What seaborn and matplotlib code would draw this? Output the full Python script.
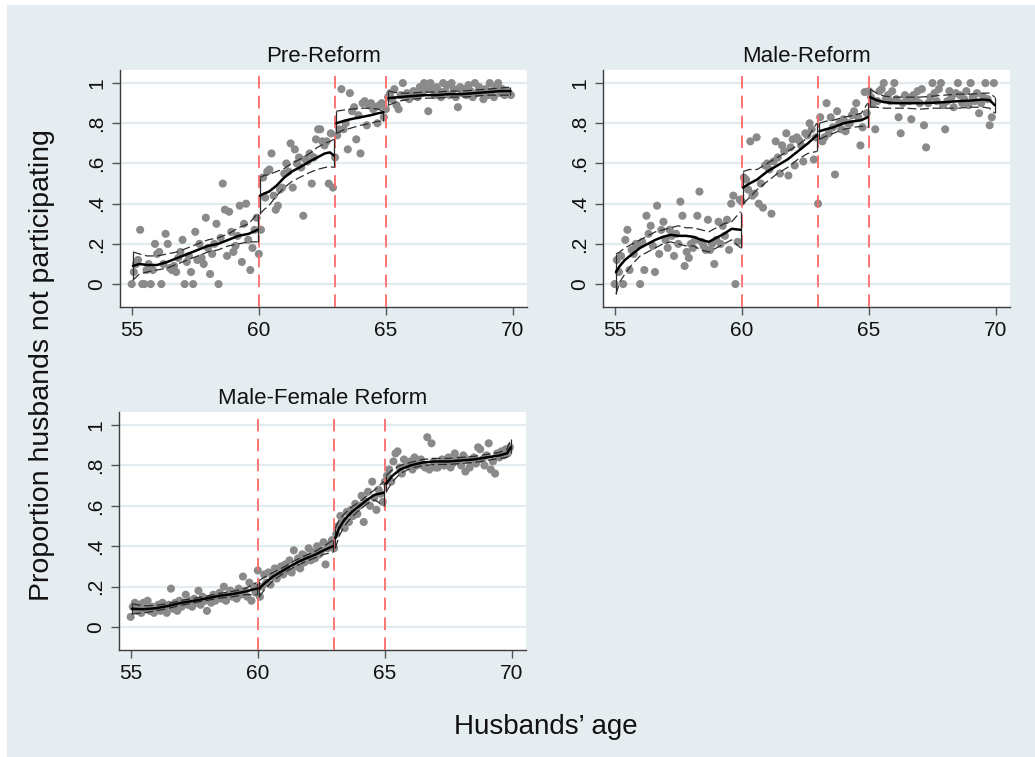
import numpy as np
import pandas as pd
import matplotlib
matplotlib.use("Agg")
import matplotlib.pyplot as plt
from matplotlib.patches import Rectangle
import seaborn as sns

# ---------------- data ----------------
ages = 55 + np.arange(180) / 12.0   # monthly age grid 55.0 ... 69.92

pre_y = [
    0.00, 0.06, 0.10, 0.12, 0.27, 0.00, 0.00, 0.07, 0.10, 0.00, 0.07, 0.20,
    0.15, 0.16, 0.00, 0.10, 0.25, 0.20, 0.08, 0.07, 0.09, 0.06, 0.13, 0.16,
    0.22, 0.00, 0.11, 0.14, 0.06, 0.00, 0.26, 0.12, 0.20, 0.13, 0.10, 0.33,
    0.18, 0.05, 0.15, 0.20, 0.30, 0.00, 0.23, 0.50, 0.37, 0.14, 0.36, 0.26,
    0.16, 0.19, 0.24, 0.39, 0.11, 0.30, 0.40, 0.22, 0.07, 0.18, 0.27, 0.33,
    0.15, 0.27, 0.53, 0.43, 0.56, 0.57, 0.65, 0.44, 0.37, 0.39, 0.47, 0.48,
    0.55, 0.60, 0.56, 0.70, 0.48, 0.67, 0.60, 0.63, 0.58, 0.34, 0.62, 0.61,
    0.65, 0.50, 0.63, 0.72, 0.77, 0.77, 0.71, 0.69, 0.71, 0.50, 0.75, 0.48,
    0.63, 0.74, 0.77, 0.97, 0.77, 0.80, 0.67, 0.95, 0.86, 0.88, 0.72, 0.84,
    0.65, 0.90, 0.91, 0.79, 0.89, 0.90, 0.87, 0.88, 0.80, 0.89, 0.90, 0.83,
    0.87, 0.93, 0.95, 0.92, 0.97, 0.89, 0.87, 0.94, 1.00, 0.93, 0.95, 0.92,
    0.94, 0.96, 0.95, 0.93, 0.98, 0.95, 1.00, 0.97, 0.86, 1.00, 0.97, 0.94,
    0.98, 0.96, 0.93, 1.00, 0.96, 0.99, 0.94, 1.00, 0.97, 0.93, 0.88, 0.98,
    0.95, 0.97, 0.94, 0.99, 0.96, 0.93, 1.00, 0.95, 0.98, 0.96, 0.92, 0.97,
    0.94, 1.00, 0.96, 0.93, 0.98, 1.00, 0.95, 0.97, 0.94, 0.96, 0.95, 0.94,
]

male_y = [
    0.00, 0.12, 0.06, 0.14, 0.00, 0.22, 0.27, 0.07, 0.17, 0.15, 0.20, 0.19,
    0.00, 0.21, 0.07, 0.34, 0.25, 0.29, 0.19, 0.06, 0.39, 0.15, 0.27, 0.31,
    0.22, 0.18, 0.27, 0.24, 0.14, 0.25, 0.20, 0.41, 0.34, 0.09, 0.16, 0.13,
    0.20, 0.18, 0.22, 0.34, 0.46, 0.21, 0.19, 0.17, 0.32, 0.17, 0.20, 0.10,
    0.22, 0.31, 0.20, 0.29, 0.24, 0.32, 0.17, 0.40, 0.44, 0.00, 0.21, 0.42,
    0.41, 0.53, 0.52, 0.47, 0.71, 0.44, 0.45, 0.73, 0.40, 0.50, 0.38, 0.59,
    0.60, 0.57, 0.35, 0.61, 0.71, 0.63, 0.55, 0.69, 0.66, 0.75, 0.54, 0.68,
    0.72, 0.59, 0.73, 0.715, 0.69, 0.61, 0.75, 0.74, 0.80, 0.77, 0.62, 0.73,
    0.40, 0.83, 0.71, 0.73, 0.90, 0.75, 0.83, 0.78, 0.545, 0.86, 0.80, 0.77,
    0.82, 0.76, 0.80, 0.80, 0.84, 0.86, 0.90, 0.83, 0.69, 0.78, 0.955, 0.85,
    0.96, 0.93, 0.90, 0.77, 0.91, 0.96, 0.97, 1.00, 0.92, 0.94, 0.91, 0.96,
    1.00, 0.92, 0.83, 0.75, 0.90, 0.94, 0.93, 0.91, 0.82, 0.94, 0.92, 0.96,
    0.90, 0.97, 0.79, 0.68, 0.90, 0.93, 1.00, 0.95, 0.91, 0.97, 1.00, 0.89,
    0.77, 0.91, 0.96, 0.93, 0.88, 0.95, 1.00, 0.94, 0.90, 0.92, 0.96, 0.89,
    1.00, 0.93, 0.91, 0.95, 0.85, 0.90, 0.93, 1.00, 0.92, 0.79, 0.83, 1.00,
]

mf_y = [
    0.05, 0.10, 0.12, 0.08, 0.11, 0.07, 0.12, 0.09, 0.13, 0.08, 0.10, 0.07,
    0.09, 0.11, 0.08, 0.12, 0.10, 0.07, 0.11, 0.19, 0.09, 0.12, 0.08, 0.13,
    0.10, 0.12, 0.16, 0.11, 0.13, 0.10, 0.14, 0.12, 0.18, 0.11, 0.15, 0.13,
    0.08, 0.14, 0.12, 0.16, 0.13, 0.15, 0.17, 0.14, 0.20, 0.13, 0.16, 0.18,
    0.15, 0.17, 0.14, 0.19, 0.16, 0.25, 0.18, 0.15, 0.22, 0.13, 0.20, 0.17,
    0.28, 0.15, 0.20, 0.26, 0.22, 0.27, 0.21, 0.25, 0.29, 0.24, 0.27, 0.30,
    0.26, 0.31, 0.28, 0.33, 0.27, 0.38, 0.30, 0.34, 0.29, 0.36, 0.32, 0.35,
    0.39, 0.33, 0.37, 0.34, 0.40, 0.36, 0.38, 0.42, 0.31, 0.39, 0.41, 0.43,
    0.39, 0.46, 0.50, 0.55, 0.53, 0.49, 0.57, 0.52, 0.58, 0.55, 0.61, 0.56,
    0.60, 0.65, 0.52, 0.62, 0.67, 0.60, 0.72, 0.64, 0.58, 0.68, 0.66, 0.62,
    0.72, 0.75, 0.78, 0.72, 0.82, 0.86, 0.87, 0.79, 0.76, 0.83, 0.80, 0.81,
    0.82, 0.78, 0.84, 0.80, 0.81, 0.83, 0.80, 0.79, 0.94, 0.78, 0.91, 0.82,
    0.79, 0.79, 0.81, 0.83, 0.80, 0.82, 0.84, 0.79, 0.81, 0.86, 0.83, 0.82,
    0.80, 0.85, 0.77, 0.83, 0.79, 0.82, 0.84, 0.81, 0.89, 0.88, 0.83, 0.80,
    0.85, 0.91, 0.78, 0.82, 0.76, 0.86, 0.84, 0.87, 0.85, 0.88, 0.86, 0.89,
]

# local fits: (x, fit, lower CI, upper CI) for each segment
pre_fit = [
    ([55.05, 55.3, 55.6, 56.0, 56.4, 56.8, 57.2, 57.6, 58.0, 58.4, 58.8, 59.2, 59.6, 59.95],
     [0.09, 0.10, 0.095, 0.095, 0.11, 0.13, 0.15, 0.17, 0.19, 0.20, 0.22, 0.24, 0.25, 0.27],
     [0.02, 0.05, 0.06, 0.07, 0.08, 0.10, 0.12, 0.14, 0.16, 0.17, 0.19, 0.20, 0.21, 0.21],
     [0.16, 0.15, 0.14, 0.14, 0.15, 0.16, 0.18, 0.20, 0.22, 0.23, 0.25, 0.28, 0.30, 0.35]),
    ([60.05, 60.2, 60.4, 60.7, 61.0, 61.3, 61.6, 62.0, 62.3, 62.6, 62.8, 62.95],
     [0.44, 0.45, 0.46, 0.49, 0.53, 0.56, 0.58, 0.61, 0.63, 0.65, 0.655, 0.64],
     [0.35, 0.37, 0.39, 0.44, 0.48, 0.51, 0.53, 0.555, 0.57, 0.58, 0.585, 0.58],
     [0.53, 0.54, 0.545, 0.56, 0.575, 0.60, 0.62, 0.65, 0.68, 0.70, 0.71, 0.72]),
    ([63.05, 63.3, 63.6, 64.0, 64.4, 64.7, 64.9],
     [0.80, 0.81, 0.82, 0.83, 0.84, 0.85, 0.855],
     [0.75, 0.765, 0.775, 0.79, 0.80, 0.81, 0.81],
     [0.86, 0.865, 0.87, 0.875, 0.875, 0.87, 0.86]),
    ([65.1, 65.5, 66.0, 66.5, 67.0, 67.5, 68.0, 68.5, 69.0, 69.5, 69.9],
     [0.925, 0.93, 0.935, 0.94, 0.94, 0.945, 0.945, 0.95, 0.955, 0.96, 0.96],
     [0.89, 0.91, 0.92, 0.925, 0.925, 0.93, 0.93, 0.935, 0.94, 0.94, 0.94],
     [0.96, 0.95, 0.95, 0.955, 0.955, 0.96, 0.96, 0.965, 0.97, 0.975, 0.98]),
]

male_fit = [
    ([55.05, 55.2, 55.4, 55.7, 56.0, 56.3, 56.6, 56.9, 57.2, 57.5, 57.8, 58.1, 58.4, 58.7, 59.0, 59.3, 59.6, 59.95],
     [0.06, 0.09, 0.12, 0.15, 0.18, 0.20, 0.22, 0.235, 0.245, 0.24, 0.24, 0.235, 0.22, 0.21, 0.23, 0.25, 0.275, 0.27],
     [-0.05, 0.01, 0.05, 0.10, 0.14, 0.16, 0.18, 0.20, 0.21, 0.20, 0.19, 0.19, 0.17, 0.16, 0.18, 0.20, 0.22, 0.18],
     [0.15, 0.16, 0.18, 0.20, 0.22, 0.24, 0.26, 0.27, 0.28, 0.29, 0.28, 0.28, 0.27, 0.26, 0.28, 0.30, 0.31, 0.36]),
    ([60.05, 60.3, 60.6, 61.0, 61.4, 61.8, 62.2, 62.6, 62.95],
     [0.48, 0.50, 0.52, 0.56, 0.59, 0.62, 0.66, 0.70, 0.74],
     [0.40, 0.43, 0.47, 0.51, 0.55, 0.58, 0.62, 0.65, 0.66],
     [0.56, 0.57, 0.57, 0.60, 0.63, 0.66, 0.69, 0.73, 0.80]),
    ([63.05, 63.3, 63.6, 64.0, 64.4, 64.7, 64.95],
     [0.76, 0.77, 0.78, 0.80, 0.81, 0.815, 0.83],
     [0.72, 0.735, 0.75, 0.77, 0.78, 0.785, 0.78],
     [0.80, 0.81, 0.815, 0.83, 0.84, 0.85, 0.90]),
    ([65.05, 65.3, 65.6, 66.0, 66.5, 67.0, 67.5, 68.0, 68.5, 69.0, 69.5, 69.75, 69.95],
     [0.93, 0.915, 0.905, 0.90, 0.90, 0.90, 0.902, 0.905, 0.91, 0.913, 0.918, 0.915, 0.89],
     [0.88, 0.88, 0.875, 0.875, 0.875, 0.87, 0.875, 0.875, 0.875, 0.88, 0.88, 0.875, 0.85],
     [0.97, 0.95, 0.935, 0.93, 0.93, 0.93, 0.935, 0.94, 0.945, 0.945, 0.95, 0.95, 0.93]),
]

mf_fit = [
    ([55.05, 55.5, 56.0, 56.5, 57.0, 57.5, 58.0, 58.5, 59.0, 59.5, 59.95],
     [0.09, 0.088, 0.093, 0.105, 0.12, 0.13, 0.142, 0.155, 0.163, 0.175, 0.19],
     [0.065, 0.07, 0.08, 0.093, 0.108, 0.12, 0.132, 0.143, 0.15, 0.16, 0.16],
     [0.115, 0.105, 0.107, 0.117, 0.132, 0.142, 0.153, 0.167, 0.176, 0.19, 0.22]),
    ([60.05, 60.3, 60.6, 61.0, 61.4, 61.8, 62.2, 62.6, 62.95],
     [0.19, 0.22, 0.25, 0.28, 0.31, 0.335, 0.355, 0.38, 0.40],
     [0.15, 0.19, 0.23, 0.265, 0.295, 0.32, 0.34, 0.36, 0.37],
     [0.23, 0.25, 0.27, 0.295, 0.325, 0.35, 0.37, 0.40, 0.43]),
    ([63.05, 63.2, 63.4, 63.7, 64.0, 64.3, 64.6, 64.95],
     [0.44, 0.49, 0.53, 0.57, 0.60, 0.63, 0.655, 0.665],
     [0.39, 0.45, 0.50, 0.545, 0.58, 0.61, 0.63, 0.60],
     [0.49, 0.53, 0.56, 0.595, 0.62, 0.65, 0.68, 0.72]),
    ([65.05, 65.3, 65.6, 66.0, 66.5, 67.0, 67.5, 68.0, 68.5, 69.0, 69.5, 69.8, 69.95],
     [0.71, 0.75, 0.78, 0.80, 0.815, 0.82, 0.82, 0.825, 0.83, 0.84, 0.85, 0.86, 0.89],
     [0.67, 0.72, 0.76, 0.785, 0.80, 0.805, 0.805, 0.81, 0.815, 0.825, 0.835, 0.84, 0.86],
     [0.75, 0.78, 0.80, 0.815, 0.83, 0.835, 0.835, 0.84, 0.845, 0.855, 0.865, 0.88, 0.93]),
]

titles = ["Pre-Reform", "Male-Reform", "Male-Female Reform"]
reform_ages = [60, 63, 65]
x_ticks = [55, 60, 65, 70]
y_ticks = [0, 0.2, 0.4, 0.6, 0.8, 1.0]
y_tick_labels = ["0", ".2", ".4", ".6", ".8", "1"]

# ---------------- style ----------------
BG = "#e5edf1"
sns.set_style("ticks")
plt.rcParams["font.family"] = ["Liberation Sans", "DejaVu Sans"]

W, H = 1035, 757
fig = plt.figure(figsize=(W / 100, H / 100), dpi=100)
fig.patch.set_facecolor("white")
fig.patches.append(Rectangle((7 / W, 0), 1, 1 - 5 / H, transform=fig.transFigure,
                             facecolor=BG, edgecolor="none", zorder=-10))

# axes boxes in pixels: left, top, right, bottom
boxes = [(120, 70, 527, 307), (603, 70, 1010, 307), (119, 412, 526, 650)]
panels = [(pre_y, pre_fit), (male_y, male_fit), (mf_y, mf_fit)]

for (l, t, r, b), title, (yv, fits) in zip(boxes, titles, panels):
    ax = fig.add_axes([l / W, 1 - b / H, (r - l) / W, (b - t) / H])
    ax.set_facecolor("white")
    ax.grid(axis="y", color="#e3ebef", lw=1.6, zorder=0)
    ax.grid(axis="x", visible=False)
    ax.set_axisbelow(True)

    df = pd.DataFrame({"age": ages, "prop": yv})
    sns.scatterplot(data=df, x="age", y="prop", ax=ax, color="#8a8a8a", s=34,
                    edgecolor="none", linewidth=0, zorder=2)

    for v in reform_ages:
        ax.axvline(v, color="#ff6a6a", lw=1.3, ls=(0, (7, 4)), zorder=3)

    for xs, f, lo, hi in fits:
        sns.lineplot(x=xs, y=lo, ax=ax, color="#2b2b2b", lw=0.9,
                     linestyle=(0, (7, 3)), estimator=None, zorder=4)
        sns.lineplot(x=xs, y=hi, ax=ax, color="#2b2b2b", lw=0.9,
                     linestyle=(0, (7, 3)), estimator=None, zorder=4)
        ax.vlines([xs[0], xs[-1]], [lo[0], lo[-1]], [hi[0], hi[-1]],
                  color="#2b2b2b", lw=0.9, zorder=4)
        sns.lineplot(x=xs, y=f, ax=ax, color="black", lw=1.8,
                     estimator=None, zorder=5)

    ax.set_xlim(54.54, 70.55)
    ax.set_ylim(-0.114, 1.065)
    ax.set_xticks(x_ticks)
    ax.set_xticklabels([str(v) for v in x_ticks])
    ax.set_yticks(y_ticks)
    ax.set_yticklabels(y_tick_labels, rotation=90, va="center")
    ax.set_xlabel("")
    ax.set_ylabel("")
    for s in ("top", "right"):
        ax.spines[s].set_visible(False)
    for s in ("left", "bottom"):
        ax.spines[s].set_color("#3c3c3c")
        ax.spines[s].set_linewidth(1.0)
    ax.tick_params(direction="out", length=6, width=1.0, color="#555555",
                   labelsize=15, labelcolor="#111111", pad=4)
    ax.set_title(title, fontsize=16, pad=6, color="#111111")

fig.text(42 / W, 1 - 365 / H, "Proportion husbands not participating",
         rotation=90, ha="center", va="center", fontsize=20.5, color="#111111")
fig.text(546 / W, 1 - 727 / H, "Husbands\u2019 age", ha="center", va="center",
         fontsize=20, color="#111111")

fig.savefig("out.png", dpi=100, facecolor=fig.get_facecolor())
